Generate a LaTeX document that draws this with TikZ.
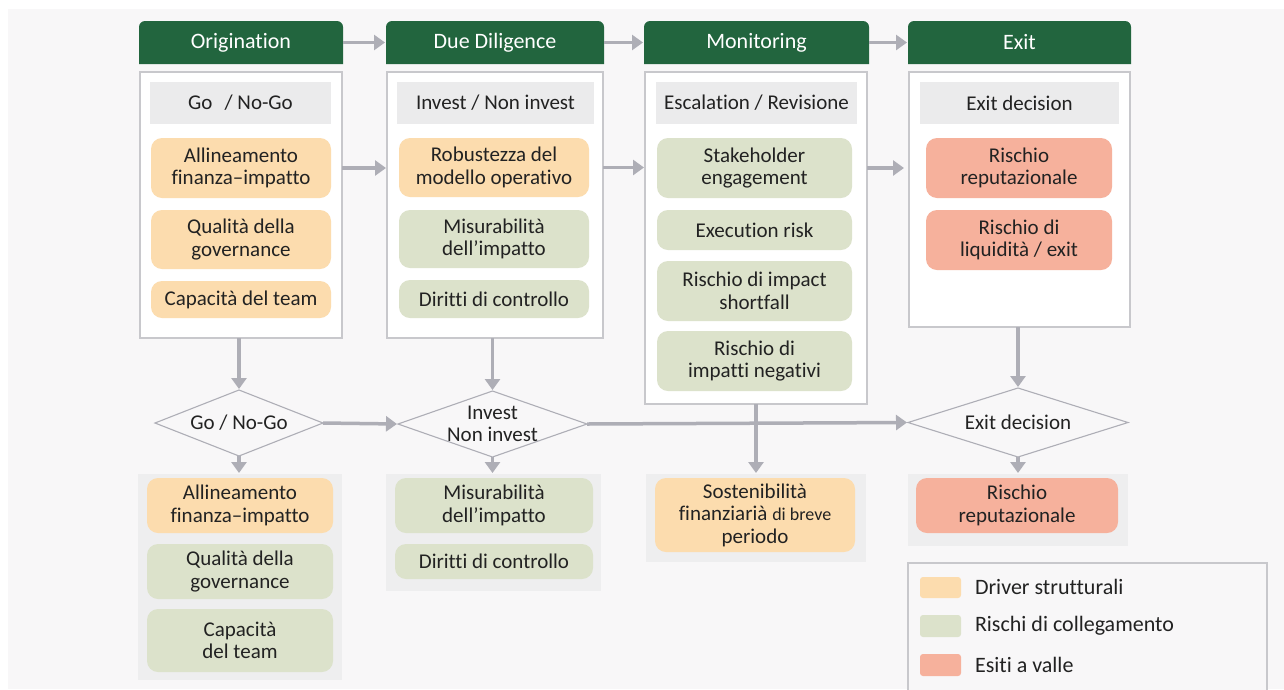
\documentclass[tikz,border=0pt]{standalone}
\usepackage{fontspec}
\setmainfont{Carlito}[Ligatures={NoCommon}]
\usetikzlibrary{arrows.meta,calc}

\definecolor{hdr}{RGB}{34,101,62}
\definecolor{drv}{RGB}{252,220,174}
\definecolor{lnk}{RGB}{220,226,203}
\definecolor{outc}{RGB}{246,177,156}
\definecolor{barc}{RGB}{235,235,236}
\definecolor{pnl}{RGB}{238,238,239}
\definecolor{bgc}{RGB}{248,247,248}
\definecolor{edge}{RGB}{200,200,204}
\definecolor{arr}{RGB}{174,174,182}
\definecolor{ink}{RGB}{34,34,34}

% place a node by its corner coordinates (pixel units)
\newcommand\bx[7]{%
  \node[#2, minimum width={(#5-#3)*1pt}, minimum height={(#6-#4)*1pt}]
    (#1) at ({(#3+#5)/2},{(#4+#6)/2}) {#7};}
% green stage header, rounded only on top
\newcommand\hdrbox[6]{%
  \fill[hdr] (#2,#5) [rounded corners=6] -- (#2,#3) -- (#4,#3) [sharp corners] -- (#4,#5) -- cycle;
  \bx{#1}{hdrtext}{#2}{#3}{#4}{#5}{#6}}

\tikzset{
  base/.style={inner sep=0pt, outer sep=0pt, align=center, text=ink,
    font=\fontsize{21}{22.5}\selectfont},
  hdrtext/.style={base, text=white, font=\fontsize{22}{24}\selectfont},
  col/.style={base, draw=edge, line width=1.5pt, fill=white},
  bar/.style={base, fill=barc},
  drvbox/.style={base, fill=drv, rounded corners=11pt},
  lnkbox/.style={base, fill=lnk, rounded corners=11pt},
  outbox/.style={base, fill=outc, rounded corners=11pt},
  panel/.style={base, fill=pnl},
  decision/.style={base},
  dia/.style={draw=arr, line width=1.1pt, fill=bgc},
  flow/.style={draw=arr, line width=3.5pt,
    -{Triangle[length=11pt,width=15pt]}, shorten >=1pt},
  swatch/.style={base, rounded corners=3pt},
  legtext/.style={base, anchor=west, font=\fontsize{22}{24}\selectfont},
}

\begin{document}
\begin{tikzpicture}[x=1pt,y=-1pt]
\useasboundingbox (0,0) rectangle (1284,689);
\clip (0,0) rectangle (1284,689);
\fill[white] (0,0) rectangle (1284,689);
\fill[bgc] (8,9) rectangle (1284,689);

% ---- stage headers
\hdrbox{hO}{139}{21}{343}{64}{Origination}
\hdrbox{hD}{386}{21}{604}{64}{Due Diligence}
\hdrbox{hM}{644}{21}{869}{64}{Monitoring}
\hdrbox{hE}{908}{21}{1131}{64}{Exit}

% ---- stage columns
\bx{cO}{col}{140}{72}{342}{338}{}
\bx{cD}{col}{387}{72}{603}{338}{}
\bx{cM}{col}{645}{72}{867}{404}{}
\bx{cE}{col}{909}{72}{1130}{327}{}

\bx{tO}{bar}{150}{82}{331}{124}{Go\hspace{0.35em} / No-Go}
\bx{tD}{bar}{397}{82}{594}{124}{Invest / Non invest}
\bx{tM}{bar}{656}{82}{857}{124}{Escalation / Revisione}
\bx{tE}{bar}{920}{82}{1119}{124}{Exit decision}

\bx{o1}{drvbox}{151}{138}{331}{198}{Allineamento\\finanza–impatto}
\bx{o2}{drvbox}{151}{210}{331}{269}{Qualità della\\governance}
\bx{o3}{drvbox}{151}{281}{331}{318}{Capacità del team}

\bx{d1}{drvbox}{399}{138}{589}{197}{Robustezza del\\modello operativo}
\bx{d2}{lnkbox}{399}{210}{589}{268}{Misurabilità\\dell’impatto}
\bx{d3}{lnkbox}{399}{280}{589}{318}{Diritti di controllo}

\bx{m1}{lnkbox}{657}{138}{852}{198}{Stakeholder\\engagement}
\bx{m2}{lnkbox}{657}{210}{852}{250}{Execution risk}
\bx{m3}{lnkbox}{657}{261}{852}{321}{Rischio di impact\\shortfall}
\bx{m4}{lnkbox}{657}{331}{852}{391}{Rischio di\\impatti negativi}

\bx{e1}{outbox}{926}{138}{1112}{198}{Rischio\\reputazionale}
\bx{e2}{outbox}{926}{210}{1112}{270}{Rischio di\\liquidità / exit}

% ---- decisions
\bx{g1}{decision}{155}{390}{323}{456}{}
\bx{g2}{decision}{398}{391}{587}{457}{}
\bx{g3}{decision}{908}{388}{1128}{457}{}
\foreach \g in {g1,g2,g3}
  \draw[dia] (\g.west) -- (\g.north) -- (\g.east) -- (\g.south) -- cycle;
\node[base] at (g1) {Go / No-Go};
\node[base] at (g2) {Invest\\Non invest};
\node[base] at (g3) {Exit decision};

% ---- outcome panels
\bx{pO}{panel}{138}{474}{342}{680}{}
\bx{b1}{drvbox}{147}{478}{333}{533}{Allineamento\\finanza–impatto}
\bx{b2}{lnkbox}{147}{544}{333}{599}{Qualità della\\governance}
\bx{b3}{lnkbox}{147}{609}{333}{672}{Capacità\\del team}

\bx{pD}{panel}{386}{474}{601}{591}{}
\bx{b4}{lnkbox}{395}{478}{593}{533}{Misurabilità\\dell’impatto}
\bx{b5}{lnkbox}{395}{544}{593}{579}{Diritti di controllo}

\bx{pM}{panel}{646}{474}{866}{562}{}
\bx{b6}{drvbox}{655}{478}{855}{552}{Sostenibilità\\finanziarià {\fontsize{18}{22.5}\selectfont di breve}\\periodo}

\bx{pE}{panel}{908}{474}{1128}{546}{}
\bx{b7}{outbox}{916}{478}{1118}{533}{Rischio\\reputazionale}

% ---- legend
\bx{lg}{base, draw=edge, line width=1.2pt, fill=bgc}{908}{563}{1267}{720}{}
\bx{s1}{swatch, fill=drv}{920}{577}{961}{598}{}
\bx{s2}{swatch, fill=lnk}{920}{615}{961}{637}{}
\bx{s3}{swatch, fill=outc}{920}{654}{961}{676}{}
\node[legtext] (l1) at (975,587) {Driver strutturali};
\node[legtext] (l2) at (975,626) {Rischi di collegamento};
\node[legtext] (l3) at (975,665) {Esiti a valle};

% ---- flows
\draw[flow] (hO) -- (hD);
\draw[flow] (hD) -- (hM);
\draw[flow] (hM) -- (hE);
\draw[flow] (cO.east |- o1) -- (cD.west |- o1);
\draw[flow] (cD.east |- d1) -- (cM.west |- d1);
\draw[flow, shorten >=5pt] (cM.east |- m1) -- (cE.west |- m1);
\draw[flow] (g1.north |- cO.south) -- (g1.north);
\draw[flow] (g2.north |- cD.south) -- (g2.north);
\draw[flow] (g3.north |- cE.south) -- (g3.north);
\draw[flow] (cM.south) -- (pM.north);
\draw[flow] (g1.east) -- (g2.west);
\draw[flow] (g2.east) -- (g3.west);
\draw[flow] (g1.south) -- (g1.south |- pO.north);
\draw[flow] (g2.south) -- (g2.south |- pD.north);
\draw[flow] (g3.south) -- (g3.south |- pE.north);
\end{tikzpicture}
\end{document}
